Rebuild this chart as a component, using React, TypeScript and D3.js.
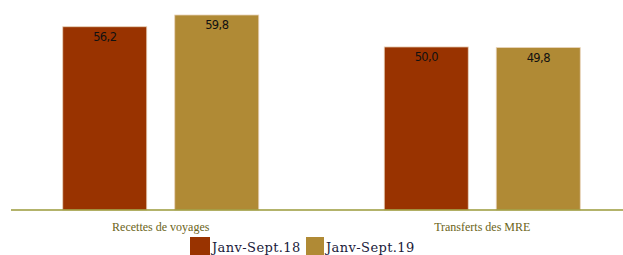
import React from 'react';
import * as d3 from 'd3';

const categories = ['Recettes de voyages', 'Transferts des MRE'];
const seriesNames = ['Janv-Sept.18', 'Janv-Sept.19'];
const values18 = [56.2, 50.0];
const values19 = [59.8, 49.8];
const colors = ['#993300', '#b08a35'];

const width = 623;
const height = 255;
const baseY = 210;

export default function App() {
  const x0 = d3.scaleBand().domain(categories).range([0, 643]).paddingInner(0).paddingOuter(0);
  const x1 = d3.scaleBand().domain(seriesNames).range([0, 196]).paddingInner(0.25).paddingOuter(0);
  const y = d3.scaleLinear().domain([0, 64.4]).range([baseY, 0]);
  const fmt = (v: number) => v.toFixed(1).replace('.', ',');
  const series = [values18, values19];

  return (
    <svg width={width} height={height} style={{ position: 'absolute', left: 0, top: 0 }}>
      {categories.map((c, i) => {
        const gx = (x0(c) as number) + x0.bandwidth() / 2 - 98;
        return (
          <g key={c} transform={`translate(${gx},0)`}>
            {seriesNames.map((s, j) => {
              const v = series[j][i];
              const bx = x1(s) as number;
              return (
                <g key={s}>
                  <rect
                    x={bx}
                    y={y(v)}
                    width={x1.bandwidth()}
                    height={baseY - y(v)}
                    fill={colors[j]}
                    stroke="#e8d2b8"
                    strokeWidth={0.8}
                  />
                  <text
                    x={bx + x1.bandwidth() / 2}
                    y={y(v) + 14}
                    textAnchor="middle"
                    fontFamily="'DejaVu Sans', sans-serif"
                    fontSize={11.5}
                    letterSpacing={-0.6}
                    fill="#111"
                  >
                    {fmt(v)}
                  </text>
                </g>
              );
            })}
            <text
              x={98}
              y={231}
              textAnchor="middle"
              fontFamily="'Liberation Serif', serif"
              fontSize={12}
              fill="#6b6420"
            >
              {c}
            </text>
          </g>
        );
      })}
      <line x1={11} x2={623} y1={baseY} y2={baseY} stroke="#9a9a3a" strokeWidth={1.6} />
      <g>
        {seriesNames.map((s, j) => {
          const lx = j === 0 ? 190 : 306;
          return (
            <g key={s}>
              <rect x={lx} y={237} width={j === 0 ? 20 : 18} height={18} fill={colors[j]} />
              <text
                x={lx + (j === 0 ? 22 : 20)}
                y={252}
                fontFamily="'DejaVu Serif', serif"
                fontSize={13}
                letterSpacing={0.4}
                fill="#1a1a3a"
              >
                {s}
              </text>
            </g>
          );
        })}
      </g>
    </svg>
  );
}
